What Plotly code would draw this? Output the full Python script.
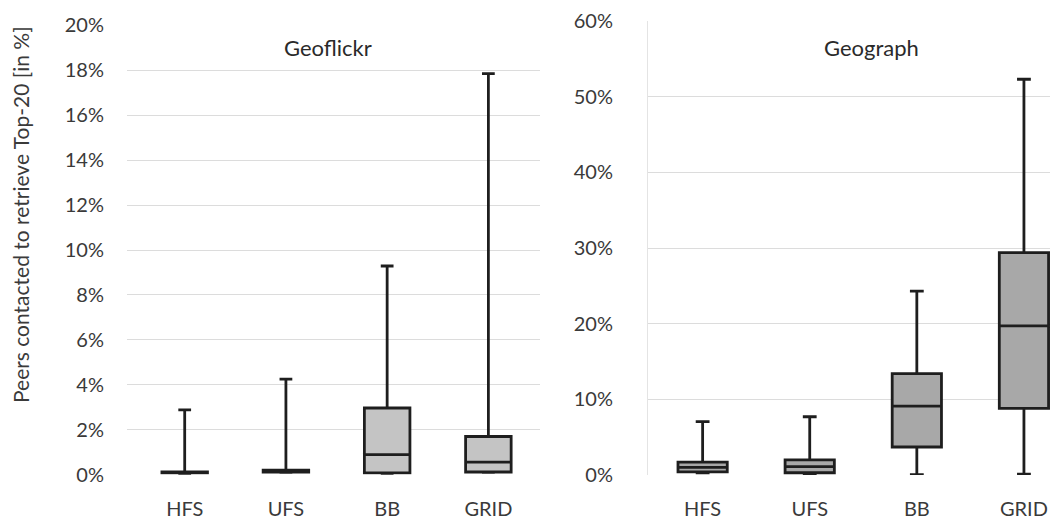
import plotly.graph_objects as go

categories = ["HFS", "UFS", "BB", "GRID"]

# Geoflickr (fractions)
geoflickr_min = [0.0005, 0.0010, 0.0005, 0.0010]
geoflickr_q1 = [0.0008, 0.0012, 0.0008, 0.0012]
geoflickr_med = [0.0010, 0.0015, 0.0089, 0.0056]
geoflickr_q3 = [0.0012, 0.0020, 0.0297, 0.0170]
geoflickr_max = [0.0289, 0.0425, 0.0929, 0.1785]

# Geograph (fractions)
geograph_min = [0.0030, 0.0010, 0.0005, 0.0010]
geograph_q1 = [0.0040, 0.0030, 0.0370, 0.0880]
geograph_med = [0.0100, 0.0110, 0.0910, 0.1970]
geograph_q3 = [0.0170, 0.0200, 0.1340, 0.2940]
geograph_max = [0.0706, 0.0770, 0.2430, 0.5230]

titles = ["Geoflickr", "Geograph"]
y_title = "Peers contacted to retrieve Top-20 [in %]"

# page body has an 8px margin, so the figure is drawn 8px in from the corner
OFF = 8
W, H = 1058 - OFF, 519 - OFF
FONT = "Lato"
TXT = "#3a3a3a"


def px_x(px):
    return (px - OFF) / W


def px_y(py):
    return 1 - (py - OFF) / H


fig = go.Figure()
fig.add_trace(go.Box(
    x=categories, q1=geoflickr_q1, median=geoflickr_med, q3=geoflickr_q3,
    lowerfence=geoflickr_min, upperfence=geoflickr_max,
    fillcolor="#c4c4c4", line=dict(color="#1e1e1e", width=2.8),
    width=0.45, whiskerwidth=0.28, boxpoints=False, showlegend=False,
    xaxis="x", yaxis="y", hoverinfo="skip"))
fig.add_trace(go.Box(
    x=categories, q1=geograph_q1, median=geograph_med, q3=geograph_q3,
    lowerfence=geograph_min, upperfence=geograph_max,
    fillcolor="#a8a8a8", line=dict(color="#1e1e1e", width=2.8),
    width=0.46, whiskerwidth=0.28, boxpoints=False, showlegend=False,
    xaxis="x2", yaxis="y2", hoverinfo="skip"))

ax_common = dict(showgrid=False, zeroline=False, showline=False, automargin=False,
                 tickfont=dict(family=FONT, size=20, color=TXT),
                 ticks="", ticklabelstandoff=20)
yax_common = dict(showgrid=True, gridcolor="#dcdcdc", gridwidth=1.2, zeroline=False,
                  automargin=False,
                  tickfont=dict(family=FONT, size=20, color=TXT),
                  tickformat=".0%", ticks="")

fig.update_layout(
    width=W, height=H,
    margin=dict(l=0, r=0, t=0, b=0, pad=0, autoexpand=False),
    paper_bgcolor="white", plot_bgcolor="white",
    xaxis=dict(domain=[px_x(127), px_x(540)], range=[-0.57, 3.51], anchor="y", **ax_common),
    yaxis=dict(domain=[px_y(474.7), px_y(25.4)], range=[0, 0.20], dtick=0.02,
               anchor="x", ticklabelstandoff=22, showline=False, **yax_common),
    xaxis2=dict(domain=[px_x(648), px_x(1055)], range=[-0.51, 3.29], anchor="y2", **ax_common),
    yaxis2=dict(domain=[px_y(475), px_y(21)], range=[0, 0.60], dtick=0.1,
                anchor="x2", ticklabelstandoff=30, showline=True, linecolor="#e4e4e4",
                linewidth=1, **yax_common),
    annotations=[
        dict(text=titles[0], x=px_x(328), y=px_y(47), xref="paper", yref="paper",
             xanchor="center", yanchor="middle", showarrow=False,
             font=dict(family=FONT, size=22, color="#2a2a2a")),
        dict(text=titles[1], x=px_x(871), y=px_y(47), xref="paper", yref="paper",
             xanchor="center", yanchor="middle", showarrow=False,
             font=dict(family=FONT, size=22, color="#2a2a2a")),
        dict(text=y_title, x=px_x(20), y=px_y(215), xref="paper", yref="paper",
             xanchor="center", yanchor="middle", textangle=-90, showarrow=False,
             font=dict(family=FONT, size=21, color=TXT)),
    ],
)

fig.write_html("out.html")
